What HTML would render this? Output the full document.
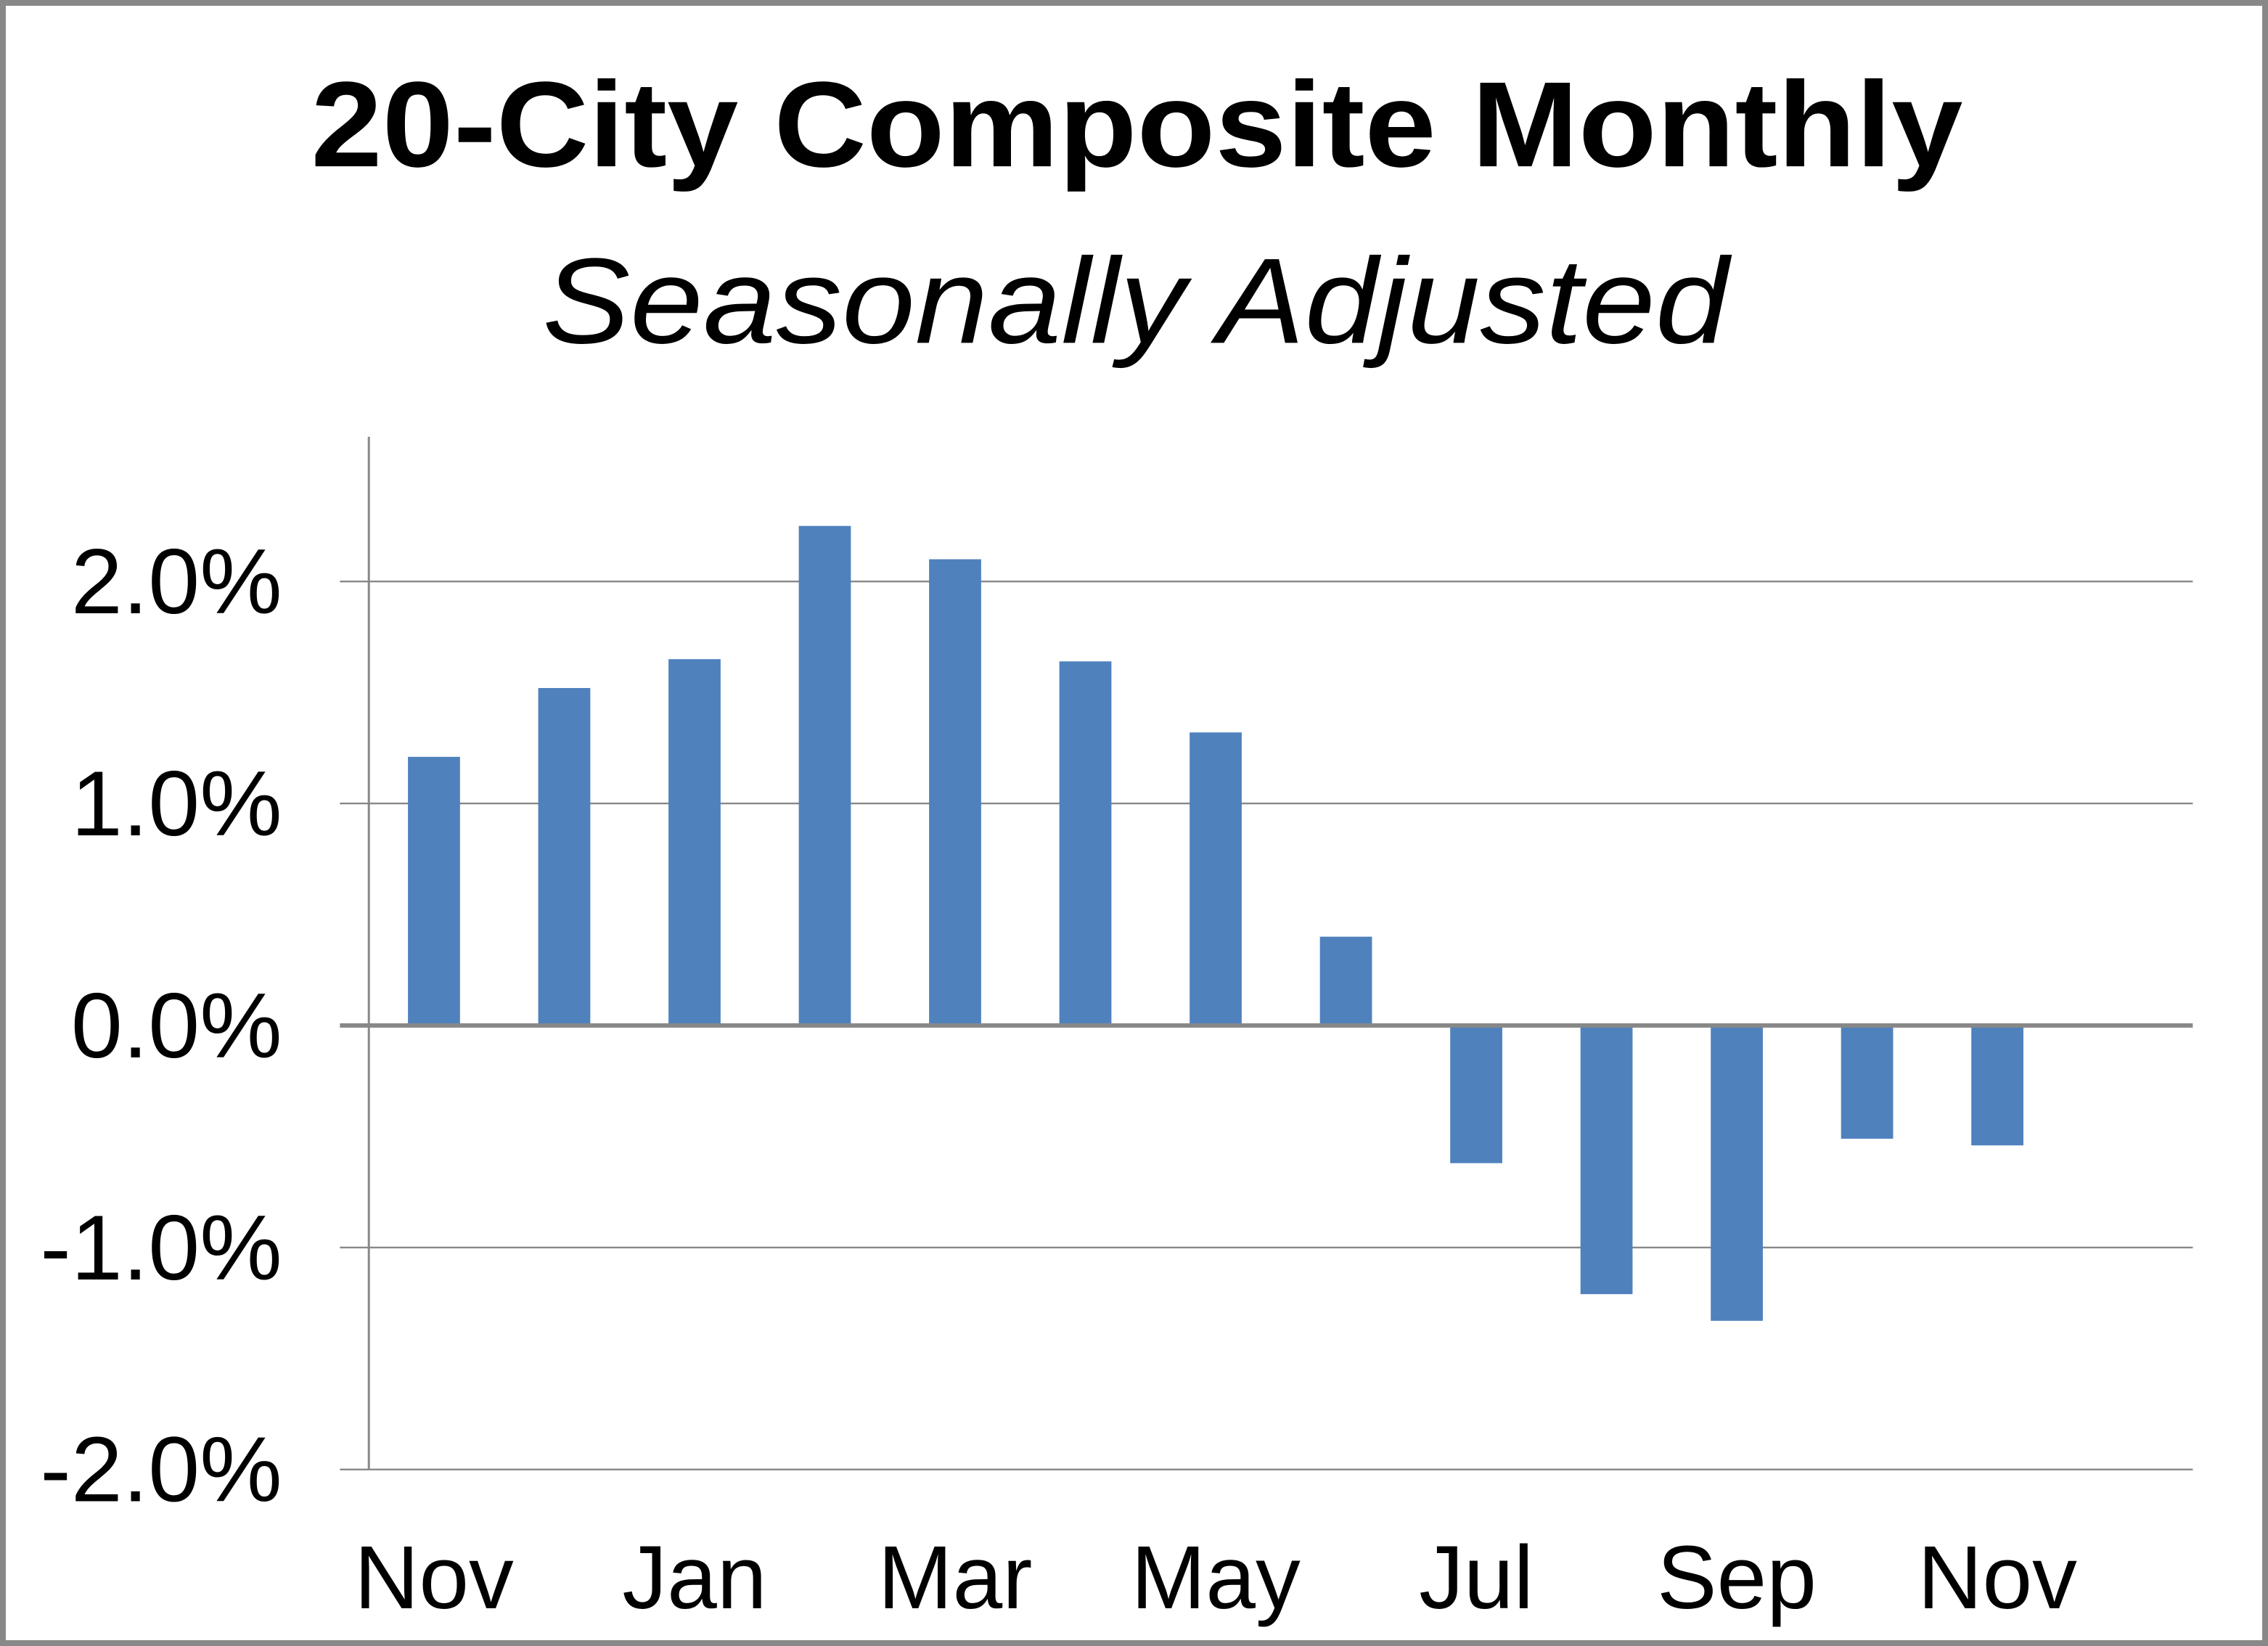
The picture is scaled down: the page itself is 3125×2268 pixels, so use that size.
<!DOCTYPE html>
<html><head><meta charset="utf-8"><style>
html,body{margin:0;padding:0;background:#fff;}
svg{display:block;}
</style></head><body>
<svg id="chart" width="3125" height="2268" viewBox="0 0 1568 1138" preserveAspectRatio="none" xmlns="http://www.w3.org/2000/svg">
<rect x="2" y="2" width="1564" height="1134" fill="#fff" stroke="#888" stroke-width="4"/>
<text x="786" y="115" text-anchor="middle" font-family="Liberation Sans, sans-serif" font-weight="bold" font-size="84" textLength="1142" lengthAdjust="spacingAndGlyphs">20-City Composite Monthly</text>
<text x="785" y="237" text-anchor="middle" font-family="Liberation Sans, sans-serif" font-style="italic" font-size="84" textLength="820" lengthAdjust="spacingAndGlyphs">Seasonally Adjusted</text>
<g id="grid"></g>
<g id="bars"></g>
<g id="axes"></g>
</svg>
<script>
const categories = ["Nov","Dec","Jan","Feb","Mar","Apr","May","Jun","Jul","Aug","Sep","Oct","Nov"];
const values = [1.21,1.52,1.65,2.25,2.10,1.64,1.32,0.40,-0.62,-1.21,-1.33,-0.51,-0.54];
const yTicks = [2,1,0,-1,-2];
const yTickLabels = ["2.0%","1.0%","0.0%","-1.0%","-2.0%"];
const xLabelIdx = [0,2,4,6,8,10,12];

const NS="http://www.w3.org/2000/svg";
const left=255,right=1516,top0=709,perUnit=153.5,slots=14;
const slotW=(right-left)/slots, barW=36;
const y=v=>top0-v*perUnit;
const x=i=>left+slotW*(i+0.5);
function mk(tag,attrs,parent){const e=document.createElementNS(NS,tag);for(const k in attrs)e.setAttribute(k,attrs[k]);parent.appendChild(e);return e;}
const grid=document.getElementById('grid'),bars=document.getElementById('bars'),axes=document.getElementById('axes');
yTicks.forEach((t,i)=>{
  if(t!==0){const l=mk('line',{x1:235,x2:right,y1:y(t),y2:y(t),stroke:'#888','stroke-width':1.2},grid);
  
  }
  const tx=mk('text',{x:195,y:y(t)+22,'text-anchor':'end','font-family':'Liberation Sans, sans-serif','font-size':64},axes);
  tx.textContent=yTickLabels[i];
  
  
});
values.forEach((v,i)=>{
  const r=mk('rect',{x:x(i)-barW/2,y:Math.min(y(v),y(0)),width:barW,height:Math.abs(y(v)-y(0)),fill:'#4f81bd'},bars);
  
  
});
const ya=mk('line',{x1:left,x2:left,y1:302,y2:y(-2),stroke:'#888','stroke-width':1.5},axes);


const za=mk('line',{x1:235,x2:right,y1:y(0),y2:y(0),stroke:'#888','stroke-width':3},axes);


xLabelIdx.forEach(i=>{
  const t=mk('text',{x:x(i),y:1112,'text-anchor':'middle','font-family':'Liberation Sans, sans-serif','font-size':62},axes);
  t.textContent=categories[i];
  
  
});
</script>
</body></html>
